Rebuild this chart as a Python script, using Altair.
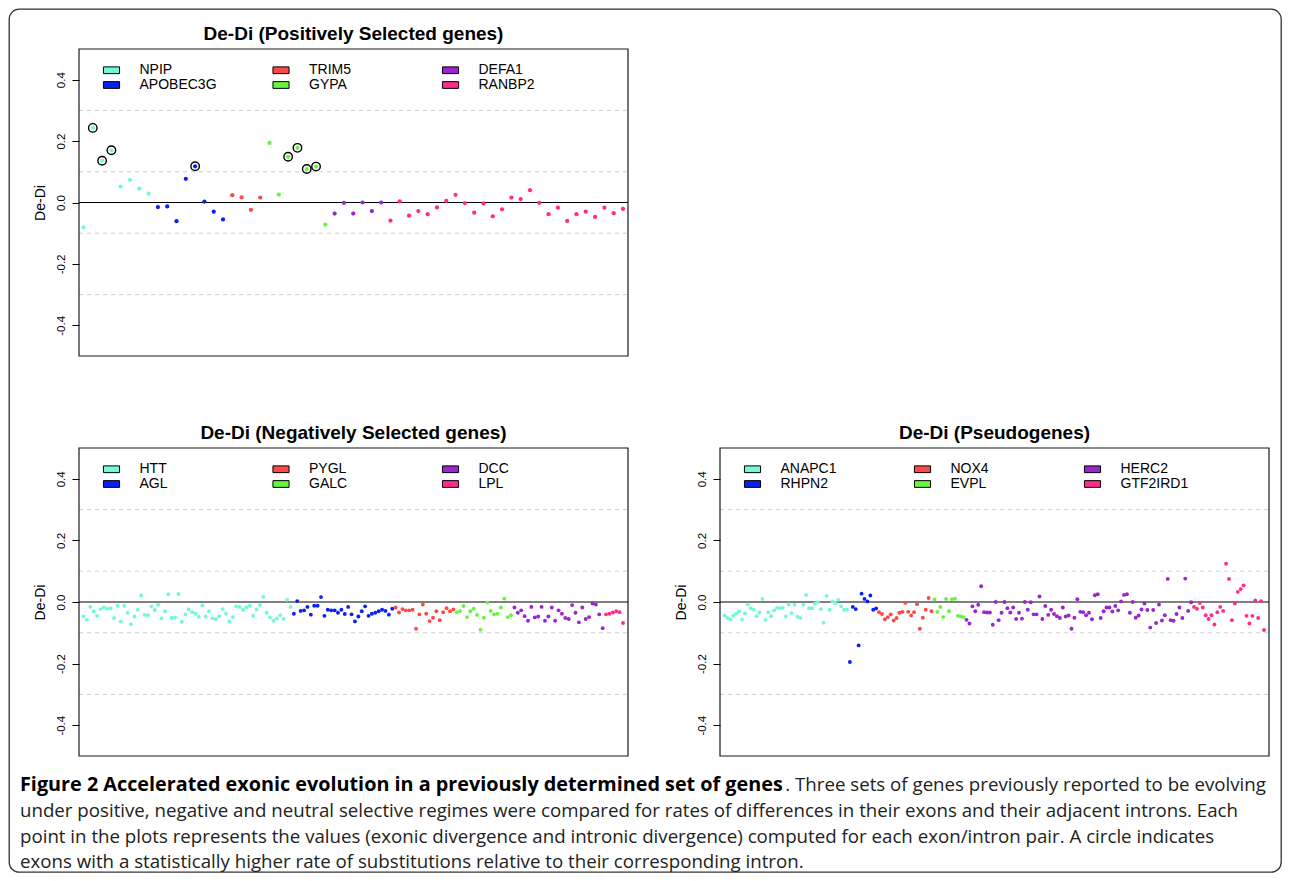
import altair as alt
import pandas as pd

# ------------------------------------------------------------------ data
pos_genes = ["NPIP", "APOBEC3G", "TRIM5", "GYPA", "DEFA1", "RANBP2"]
pos_NPIP = [-0.081, 0.243, 0.136, 0.170, 0.052, 0.074, 0.045, 0.029]
pos_APOBEC3G = [-0.015, -0.013, -0.061, 0.077, 0.118, 0.003, -0.030, -0.055]
pos_TRIM5 = [0.024, 0.017, -0.024, 0.016]
pos_GYPA = [0.194, 0.026, 0.149, 0.178, 0.109, 0.117, -0.072]
pos_DEFA1 = [-0.036, -0.001, -0.036, 0.000, -0.028, 0.000]
pos_RANBP2 = [-0.059, 0.004, -0.043, -0.028, -0.038, -0.016, 0.005, 0.025, -0.002,
              -0.033, -0.003, -0.045, -0.022, 0.016, 0.011, 0.040, -0.001, -0.038,
              -0.017, -0.060, -0.038, -0.030, -0.047, -0.017, -0.035, -0.021]
pos_circled = {"NPIP": [1, 2, 3], "APOBEC3G": [4], "GYPA": [2, 3, 4, 5]}

neg_genes = ["HTT", "AGL", "PYGL", "GALC", "DCC", "LPL"]
neg_HTT = [-0.047, -0.058, -0.016, -0.030, -0.045, -0.023, -0.018, -0.022, -0.021, -0.052,
           -0.012, -0.063, -0.012, -0.035, -0.072, -0.047, -0.025, 0.021, -0.042, -0.043,
           -0.014, -0.026, -0.009, -0.053, -0.030, 0.025, -0.051, -0.050, 0.026, -0.064,
           -0.040, -0.024, -0.033, -0.038, -0.048, -0.011, -0.047, -0.030, -0.053, -0.055,
           -0.046, -0.023, -0.038, -0.063, -0.049, -0.014, -0.016, -0.025, -0.017, -0.012,
           -0.045, -0.024, -0.010, 0.017, -0.034, -0.050, -0.061, -0.053, -0.043, -0.055,
           0.007, -0.016]
neg_AGL = [-0.038, 0.003, -0.029, -0.027, -0.016, -0.041, -0.012, -0.012, 0.016, -0.045,
           -0.025, -0.027, -0.027, -0.035, -0.025, -0.039, -0.016, -0.040, -0.063, -0.047,
           -0.030, -0.014, -0.045, -0.038, -0.035, -0.030, -0.025, -0.029, -0.041, -0.022]
neg_PYGL = [-0.018, -0.034, -0.023, -0.027, -0.027, -0.025, -0.087, -0.040, -0.008,
            -0.038, -0.062, -0.051, -0.030, -0.059, -0.033, -0.020, -0.030, -0.024]
neg_GALC = [-0.033, -0.029, -0.013, -0.049, -0.030, -0.022, -0.042, -0.090, -0.051,
            -0.002, -0.029, -0.040, -0.038, -0.018, 0.011, -0.049, -0.043]
neg_DCC = [-0.018, -0.035, -0.027, -0.046, -0.061, -0.016, -0.050, -0.047, -0.016,
           -0.061, -0.047, -0.018, -0.061, -0.027, -0.038, -0.052, -0.055, -0.010,
           -0.035, -0.066, -0.018, -0.055, -0.049, -0.005, -0.008, -0.040, -0.085]
neg_LPL = [-0.040, -0.038, -0.034, -0.030, -0.033, -0.068]

pse_genes = ["ANAPC1", "RHPN2", "NOX4", "EVPL", "HERC2", "GTF2IRD1"]
pse_ANAPC1 = [-0.044, -0.052, -0.057, -0.044, -0.038, -0.030, -0.057, -0.037, -0.008,
              -0.020, -0.025, -0.046, -0.034, 0.010, -0.058, -0.033, -0.046, -0.027,
              -0.019, -0.020, -0.019, -0.047, -0.008, -0.036, -0.009, -0.048, -0.052,
              -0.009, 0.023, -0.020, -0.020, -0.005, -0.001, -0.023, -0.067, 0.020,
              -0.025, 0.002, -0.003, 0.007, -0.014, -0.025, -0.025]
pse_RHPN2 = [-0.195, -0.016, -0.023, -0.141, 0.027, 0.010, 0.002, 0.021, -0.025, -0.021]
pse_NOX4 = [-0.033, -0.039, -0.056, -0.049, -0.040, -0.060, -0.052, -0.035, -0.032,
            -0.003, -0.032, -0.044, -0.033, -0.007, -0.087, -0.051, -0.025, 0.013, -0.030]
pse_EVPL = [0.008, -0.032, -0.016, -0.049, 0.010, -0.030, 0.009, 0.011, -0.045, -0.047, -0.049]
pse_HERC2 = [-0.058, -0.070, -0.014, -0.030, -0.009, 0.051, -0.033, -0.034, -0.034, -0.074,
             0.000, -0.059, -0.035, 0.000, -0.020, -0.034, -0.018, -0.055, -0.035, -0.054,
             0.000, -0.025, -0.001, -0.040, -0.040, 0.018, -0.055, -0.013, -0.042, -0.025,
             -0.039, -0.046, -0.052, -0.018, -0.047, -0.044, -0.087, -0.051, 0.009, -0.032,
             -0.033, -0.043, -0.035, -0.056, 0.022, 0.025, -0.052, -0.030, -0.018, -0.018,
             -0.031, -0.013, -0.027, 0.002, 0.023, 0.025, -0.035, 0.000, -0.051, -0.044,
             -0.024, -0.005, -0.026, -0.083, -0.026, -0.068, -0.008, -0.060, -0.043, 0.075,
             -0.059, -0.061, -0.039, -0.018, -0.052, 0.076, -0.029, -0.001]
pse_GTF2IRD1 = [-0.016, -0.022, -0.003, -0.018, -0.043, -0.055, -0.043, -0.073, -0.033,
                -0.016, -0.029, 0.124, 0.075, -0.059, -0.005, 0.033, 0.042, 0.054,
                -0.045, -0.070, -0.045, 0.005, -0.052, 0.003, -0.091]

gene_colors = ["#72F9D7", "#0B20F0", "#FF4747", "#68F33C", "#9A25CE", "#FF2C8C"]
grid_values = [-0.3, -0.1, 0.1, 0.3]
y_ticks = [-0.4, -0.2, 0.0, 0.2, 0.4]
y_domain = [-0.5, 0.5]

titles = ["De-Di (Positively Selected genes)",
          "De-Di (Negatively Selected genes)",
          "De-Di (Pseudogenes)"]
caption_bold = "Figure 2 Accelerated exonic evolution in a previously determined set of genes"
caption_rest = [". Three sets of genes previously reported to be evolving",
                "under positive, negative and neutral selective regimes were compared for rates of differences in their exons and their adjacent introns. Each",
                "point in the plots represents the values (exonic divergence and intronic divergence) computed for each exon/intron pair. A circle indicates",
                "exons with a statistically higher rate of substitutions relative to their corresponding intron."]

# ------------------------------------------------------------------ layout (pixels)
OX, OY = 9, 9           # page position of the view origin
FONT = "Liberation Sans"
SWATCH = "M-1.15,-0.48L1.15,-0.48L1.15,0.48L-1.15,0.48Z"


def make_df(genes, series, circled):
    rows = []
    i = 1
    for g, vals in zip(genes, series):
        for k, v in enumerate(vals):
            rows.append({"idx": i, "val": v, "gene": g,
                         "circled": k in circled.get(g, [])})
            i += 1
    return pd.DataFrame(rows)


def panel(df, genes, title, left, right, top, bottom, col_pad, pt_size):
    n = len(df)
    width = right - left
    s = (width - 9.5) / (n - 1)
    xdom = [1 - 4.5 / s, n + 5.0 / s]
    xs = alt.Scale(domain=xdom, range=[left - OX, right - OX], nice=False, zero=False)
    ys = alt.Scale(domain=y_domain, range=[bottom - OY, top - OY], nice=False, zero=False)
    yaxis = alt.Axis(
        values=y_ticks, orient="left", offset=-(left - OX), domain=False, grid=False,
        ticks=True, tickSize=7, tickColor="black", tickWidth=1,
        labelExpr="datum.value < 0 ? '-' + format(-datum.value, '.1f') : format(datum.value, '.1f')",
        labelAngle=-90, labelAlign="center", labelBaseline="bottom",
        labelFont=FONT, labelFontSize=11.5, labelColor="black", labelPadding=6,
        title="De-Di", titleFont=FONT, titleFontSize=14, titleFontWeight="normal",
        titleColor="black", titlePadding=8,
    )
    X = lambda f: alt.X(f, type="quantitative", scale=xs, axis=None)
    Y = lambda f: alt.Y(f, type="quantitative", scale=ys, axis=yaxis)

    grid_df = pd.DataFrame({"y": grid_values, "x0": xdom[0], "x1": xdom[1]})
    zero_df = pd.DataFrame({"y": [0.0], "x0": [xdom[0]], "x1": [xdom[1]]})
    frame_df = pd.DataFrame({"x0": [xdom[0]], "x1": [xdom[1]],
                             "y0": [y_domain[0]], "y1": [y_domain[1]]})

    grid = alt.Chart(grid_df).mark_rule(color="#cfcfcf", strokeDash=[4, 4], strokeWidth=1).encode(
        x=X("x0"), x2="x1", y=Y("y"))
    zero = alt.Chart(zero_df).mark_rule(color="black", strokeWidth=1.2).encode(
        x=X("x0"), x2="x1", y=Y("y"))
    pts = alt.Chart(df).mark_circle(size=pt_size, opacity=1).encode(
        x=X("idx"), y=Y("val"),
        color=alt.Color("gene:N", scale=alt.Scale(domain=genes, range=gene_colors),
                        legend=alt.Legend(
                            title=None, orient="none",
                            legendX=left + 24 - OX + 1, legendY=top + 21 - 7.5 - OY,
                            columns=3, gridAlign="all", columnPadding=col_pad,
                            rowPadding=-1, padding=0, symbolType=SWATCH, symbolSize=196,
                            symbolStrokeColor="black", symbolStrokeWidth=1, symbolOpacity=1,
                            labelFont=FONT, labelFontSize=14, labelColor="black",
                            labelOffset=20.5, labelBaseline="middle",
                        )))
    layers = [grid, zero, pts]
    if df["circled"].any():
        rings = alt.Chart(df).transform_filter("datum.circled").mark_point(
            shape="circle", size=72, filled=False, stroke="black", strokeWidth=1.4,
            opacity=1).encode(x=X("idx"), y=Y("val"))
        layers.append(rings)
    frame = alt.Chart(frame_df).mark_rect(fillOpacity=0, stroke="#1a1a1a", strokeWidth=1.2).encode(
        x=X("x0"), x2="x1", y=Y("y0"), y2="y1")
    layers.append(frame)
    ttl = alt.Chart(pd.DataFrame({"t": [title]})).mark_text(
        font=FONT, fontSize=19, fontWeight="bold", align="center", baseline="middle",
        color="black").encode(text="t:N", x=alt.value((left + right) / 2 - OX),
                              y=alt.value(top - 15.5 - OY))
    layers.append(ttl)
    return alt.layer(*layers)


top_df = make_df(pos_genes, [pos_NPIP, pos_APOBEC3G, pos_TRIM5, pos_GYPA, pos_DEFA1, pos_RANBP2],
                 pos_circled)
neg_df = make_df(neg_genes, [neg_HTT, neg_AGL, neg_PYGL, neg_GALC, neg_DCC, neg_LPL], {})
pse_df = make_df(pse_genes, [pse_ANAPC1, pse_RHPN2, pse_NOX4, pse_EVPL, pse_HERC2, pse_GTF2IRD1], {})

p1 = panel(top_df, pos_genes, titles[0], 79, 628, 49, 356, 53.5, 18)
p2 = panel(neg_df, neg_genes, titles[1], 79, 628, 448, 756, 92.5, 15)
p3 = panel(pse_df, pse_genes, titles[2], 720, 1269, 448, 756, 63.0, 15)

CAP_FONT = "Open Sans"
BOLD_SIZE = 19.8
REG_SIZE = 18.7
bold_end = 20 + 38.6 * BOLD_SIZE
cap_y = [785, 811, 837, 862]
cap_layers = [
    alt.Chart(pd.DataFrame({"t": [caption_bold]})).mark_text(
        font=CAP_FONT, fontSize=BOLD_SIZE, fontWeight="bold", align="left", baseline="middle",
        color="black").encode(text="t:N", x=alt.value(20 - OX), y=alt.value(cap_y[0] - OY)),
    alt.Chart(pd.DataFrame({"t": [caption_rest[0]]})).mark_text(
        font=CAP_FONT, fontSize=REG_SIZE, align="left", baseline="middle",
        color="#222").encode(text="t:N", x=alt.value(bold_end + 1 - OX), y=alt.value(cap_y[0] - OY)),
]
for line, yy in zip(caption_rest[1:], cap_y[1:]):
    cap_layers.append(alt.Chart(pd.DataFrame({"t": [line]})).mark_text(
        font=CAP_FONT, fontSize=REG_SIZE, align="left", baseline="middle",
        color="#222").encode(text="t:N", x=alt.value(20 - OX), y=alt.value(yy - OY)))

chart = alt.layer(p1, p2, p3, *cap_layers).resolve_scale(
    x="independent", y="independent", color="independent"
).resolve_axis(y="independent").properties(
    width=1272, height=863,
    padding={"left": 1, "top": 1, "right": 1, "bottom": 1},
    autosize=alt.AutoSizeParams(type="none"),
).configure_view(
    stroke="#333333", strokeWidth=1.3, cornerRadius=10, fill="white"
)

chart.save("out.html", embed_options={"renderer": "svg", "actions": False})
